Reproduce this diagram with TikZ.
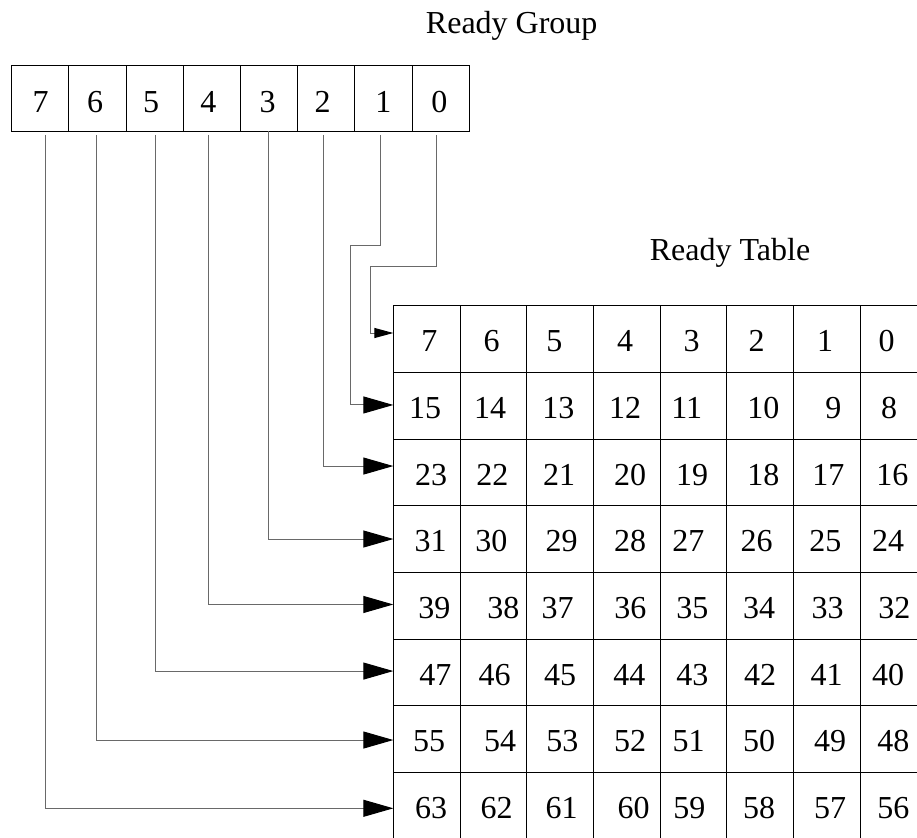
\documentclass[tikz,border=0pt]{standalone}
\usepackage{fontspec}
\setmainfont{Liberation Serif}
\usetikzlibrary{arrows.meta}
\begin{document}
\begin{tikzpicture}[x=1pt,y=-1pt,
  every node/.style={font=\fontsize{32}{38}\selectfont},
  gcell/.style={draw=black, line width=0.9pt, minimum width=57.2pt,
    minimum height=66pt, inner sep=0pt, outer sep=0pt},
  tcell/.style={draw=black, line width=0.9pt, minimum width=66.67pt,
    minimum height=66.67pt, inner sep=0pt, outer sep=0pt},
  num/.style={anchor=base, inner sep=0pt},
  wire/.style={draw={rgb,255:red,105;green,105;blue,105}, line width=1pt},
  bigtip/.style={-{Triangle[length=30pt,width=17pt,color=black]}},
  smalltip/.style={-{Triangle[length=19pt,width=10pt,color=black]}},
]
\useasboundingbox (0,0) rectangle (917,837);
\clip (0,0) rectangle (917,837);

% titles
\node[num] (rg) at (511.7,34) {Ready Group};
\node[num] (rt) at (730,260) {Ready Table};

% ready group register, bit 7 on the left
\foreach \i in {0,...,7} {
  \pgfmathtruncatemacro\b{7-\i}
  \node[gcell] (g\b) at ({40.3+57.2*\i},98) {};
}
\foreach \b/\x in {7/40.7,6/95,5/151,4/208.3,3/267.7,2/322.7,1/383.3,0/439.3}
  \node[num] (gl\b) at (\x,112.7) {\b};

% ready table cells
\foreach \r in {0,...,7} {
  \foreach \c in {0,...,7} {
    \node[tcell] (t-\r-\c) at ({426.67+66.67*\c},{339+66.67*\r}) {};
  }
}

% table entries, priority = 8*row + 7 - column
\foreach \r/\xs in {
  0/{429.3,491.7,554.3,625,691.7,756.7,825,886.7},
  1/{425,490,558.3,625,686.7,763.3,833.3,889},
  2/{431,492.3,559,630,692,763.3,828.3,892.3},
  3/{430.7,491.3,561.7,630,688.3,756.7,825.3,888},
  4/{434.3,503.3,557.7,630.3,692.3,759,827.7,894.3},
  5/{435.3,494.7,560,629.3,692.3,760,826.7,888},
  6/{429,500,562.3,630,688.7,759,830,893.3},
  7/{431,496.7,561.7,633.7,689.3,759,830,893.3}} {
  \foreach \x [count=\ci] in \xs {
    \pgfmathtruncatemacro\n{8*\r+8-\ci}
    \node[num] (n\n) at (\x,{351.7+66.67*\r}) {\n};
  }
}

% connectors from each group bit to its table row
\draw[wire,smalltip] (g0.south) ++(-3.8,4) |- (370,266.7)
  |- ([yshift=6pt]t-0-0.west);
\draw[wire,bigtip] (g1.south) ++(-3.0,4) |- (350.7,245.7)
  |- ([yshift=0.7pt]t-1-0.west);
\draw[wire,bigtip] (g2.south) ++(-2.6,4) |- ([yshift=6.3pt]t-2-0.west);
\draw[wire,bigtip] (g3.south) ++(-0.6,0) |- (t-3-0.west);
\draw[wire,bigtip] (g4.south) ++(-3.3,4) |- ([yshift=1.2pt]t-4-0.west);
\draw[wire,bigtip] (g5.south) ++(0.3,4) |- ([yshift=1.3pt]t-5-0.west);
\draw[wire,bigtip] (g6.south) ++(-1.3,4) |- ([yshift=-1pt]t-6-0.west);
\draw[wire,bigtip] (g7.south) ++(5.4,4) |- ([yshift=-2.6pt]t-7-0.west);
\end{tikzpicture}
\end{document}
